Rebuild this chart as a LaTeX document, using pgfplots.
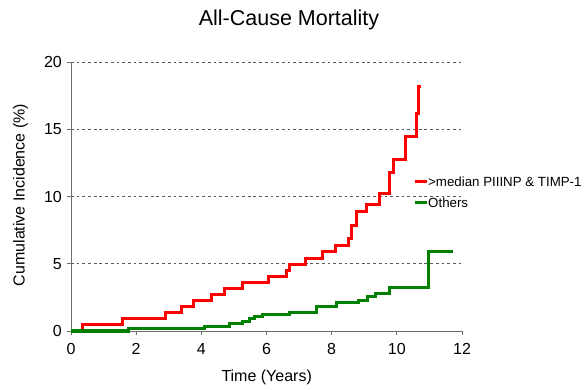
\documentclass[border=0pt]{standalone}
\usepackage{pgfplots}
\pgfplotsset{compat=1.18}
\usepackage{fontspec}
\setmainfont{Liberation Sans}
\definecolor{kmred}{RGB}{255,0,0}
\definecolor{kmgreen}{RGB}{0,128,0}
\definecolor{axgray}{RGB}{110,110,110}
\begin{document}
\begin{tikzpicture}
\useasboundingbox (-71bp,-59bp) rectangle (513bp,331bp);
\begin{axis}[
  at={(0,0)}, anchor=south west,
  scale only axis, width=391bp, height=269bp,
  xmin=0, xmax=12, ymin=0, ymax=20,
  xtick={0,2,4,6,8,10,12}, ytick={0,5,10,15,20},
  axis lines=left, axis line style={-, draw=axgray, line width=0.8bp},
  tick align=outside, major tick length=4bp,
  tick style={draw=axgray, line width=0.8bp},
  ymajorgrids, grid style={dash pattern=on 2.8bp off 2.9bp, draw=black!65, line width=0.9bp},
  /pgf/number format/assume math mode=true,
  ticklabel style={font=\fontsize{16bp}{18bp}\selectfont},
  yticklabel style={inner sep=0pt, xshift=-5bp},
  xticklabel style={inner sep=0pt, yshift=-8bp},
  clip=false,
  legend style={draw=none, fill=none, at={(0.8747,0.5725)}, anchor=north west,
    inner sep=0pt, row sep=11.5bp, column sep=0pt,
    font=\fontsize{13.3bp}{15bp}\selectfont,
    nodes={inner sep=0pt, text height=9.5bp, text depth=0bp}},
  legend cell align=left,
  legend image code/.code={\draw[#1, line width=3bp] (0bp,0bp) -- (12bp,0bp);},
]
\addplot[kmred, line width=3bp, const plot mark left] coordinates {
(0,0) (0.35,0.45) (1.58,0.96) (2.89,1.38) (3.40,1.83) (3.76,2.25) (4.31,2.69)
(4.70,3.14) (5.27,3.63) (6.05,4.03) (6.60,4.47) (6.70,4.97) (7.21,5.39)
(7.71,5.88) (8.11,6.38) (8.53,6.87) (8.62,7.84) (8.77,8.85) (9.06,9.44)
(9.47,10.19) (9.78,11.82) (9.91,12.78) (10.27,14.46) (10.59,16.14)
(10.67,18.17) (10.73,18.17)};
\addlegendentry{>median PIIINP \& TIMP-1}
\addplot[kmgreen, line width=3bp, const plot mark left] coordinates {
(0,0) (1.78,0.17) (4.09,0.35) (4.85,0.54) (5.26,0.74) (5.49,0.91) (5.64,1.11)
(5.87,1.26) (6.70,1.41) (7.53,1.85) (8.14,2.10) (8.81,2.30) (9.11,2.57)
(9.33,2.82) (9.77,3.24) (10.96,5.93) (11.72,5.93)};
\addlegendentry{Others}
\end{axis}
\node[anchor=base, inner sep=0pt, font=\fontsize{21.5bp}{24bp}\selectfont] at (218bp,305bp) {All-Cause Mortality};
\node[anchor=center, inner sep=0pt, rotate=90, font=\fontsize{16bp}{18bp}\selectfont] at (-50.5bp,136bp) {Cumulative Incidence (\%)};
\node[anchor=base, inner sep=0pt, font=\fontsize{16bp}{18bp}\selectfont] at (195.7bp,-50.5bp) {Time (Years)};
\end{tikzpicture}
\end{document}
